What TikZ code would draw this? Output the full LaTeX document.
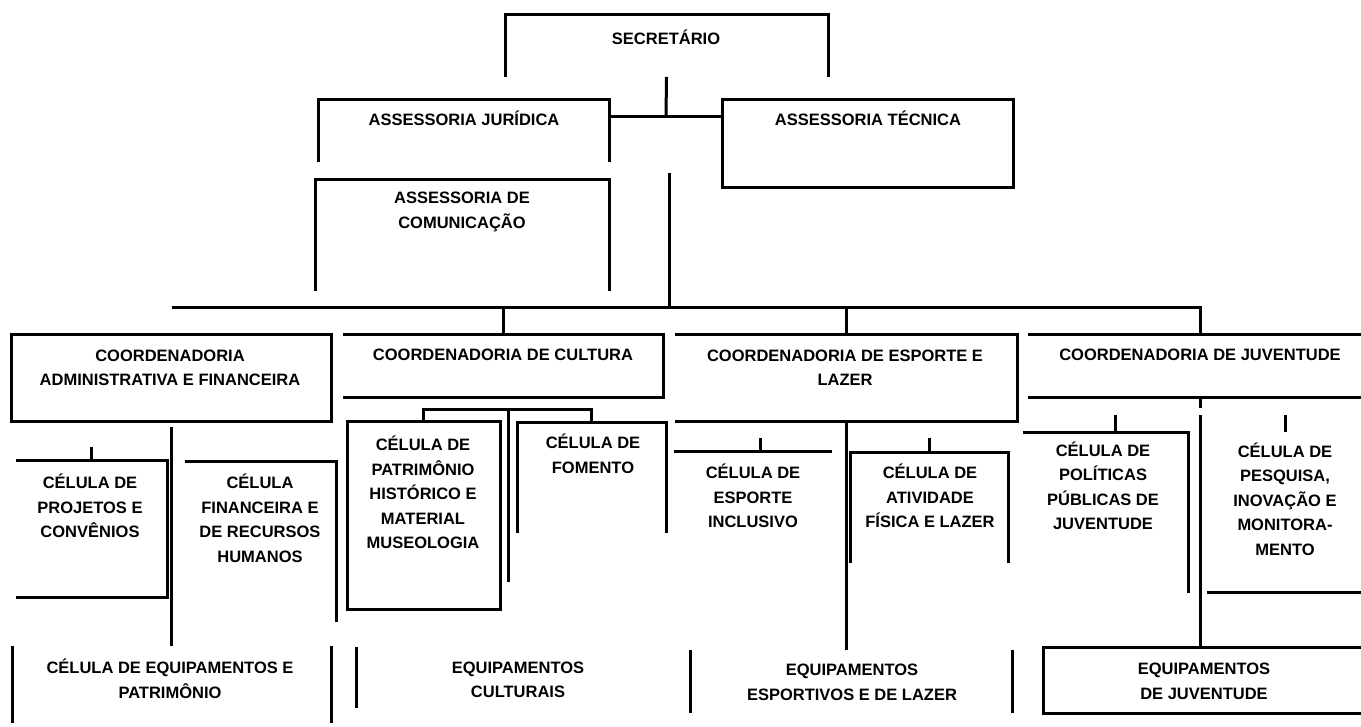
\documentclass[tikz,border=0pt]{standalone}
\usepackage{fontspec}
\setmainfont{Liberation Sans}

\begin{document}
\begin{tikzpicture}[
            x = 1pt, y = -1pt, % one unit per pixel, y going down
            line width = 3pt, % line style
            every node/.style = {inner sep = 0pt, outer sep = 0pt}
        ]

        \tikzset{orgbox/.style 2 args = {rectangle, minimum width = #1pt, minimum height = #2pt}}

        \tikzstyle{txt}=[
            font = \fontsize{16.5}{24.5}\selectfont\bfseries,
            align = center
        ]

        \useasboundingbox (0,0) rectangle (1361,727);
        \fill[white] (0,0) rectangle (1361,727);
        \clip (0,0) rectangle (1361,727);

        % top
        \node[orgbox={323}{62}] (sec) at (666.5,46) {};
        \node[orgbox={291}{62}] (jur) at (463.5,131) {};
        \node[orgbox={291}{88}] (tec) at (867.5,144) {};
        \node[orgbox={294}{111}] (com) at (462,235.5) {};

        % coordenadorias
        \node[orgbox={320}{87}] (adm) at (171,378.5) {};
        \node[orgbox={320}{63}] (cul) at (503,366.5) {};
        \node[orgbox={342}{87}] (esp) at (846,378.5) {};
        \node[orgbox={344}{63}] (juv) at (1200,366.5) {};

        % celulas
        \node[orgbox={151}{137}] (prj) at (91.5,528.5) {};
        \node[orgbox={151}{161}] (fin) at (260.5,541.5) {};
        \node[orgbox={153}{187}] (his) at (423.5,515.5) {};
        \node[orgbox={149}{110}] (fom) at (591.5,478) {};
        \node[orgbox={158}{112}] (inc) at (753,507) {};
        \node[orgbox={158}{111}] (atv) at (929,507.5) {};
        \node[orgbox={165}{161}] (pol) at (1105.5,512.5) {};
        \node[orgbox={156}{160}] (pes) at (1285,512) {};

        % equipamentos
        \node[orgbox={319}{77}] (peq) at (171.5,684.5) {};
        \node[orgbox={324}{61}] (ecu) at (518,677.5) {};
        \node[orgbox={322}{63}] (ees) at (851,681.5) {};
        \node[orgbox={322}{66}] (eju) at (1204,680) {};

        % texts
        \node[txt] (sec-t) at (666,37) {SECRETÁRIO};
        \node[txt] (jur-t) at (464,118) {ASSESSORIA JURÍDICA};
        \node[txt] (tec-t) at (868,118) {ASSESSORIA TÉCNICA};
        \node[txt] (com-t) at (462,212) {ASSESSORIA DE\\COMUNICAÇÃO};
        \node[txt] (adm-t) at (170,368) {COORDENADORIA\\ADMINISTRATIVA E FINANCEIRA};
        \node[txt] (cul-t) at (503,355) {COORDENADORIA DE CULTURA};
        \node[txt] (esp-t) at (845,367.5) {COORDENADORIA DE ESPORTE E\\LAZER};
        \node[txt] (juv-t) at (1200,355) {COORDENADORIA DE JUVENTUDE};
        \node[txt] (prj-t) at (90,506) {CÉLULA DE\\PROJETOS E\\CONVÊNIOS};
        \node[txt] (fin-t) at (260,518.5) {CÉLULA\\FINANCEIRA E\\DE RECURSOS\\HUMANOS};
        \node[txt] (his-t) at (423,492.5) {CÉLULA DE\\PATRIMÔNIO\\HISTÓRICO E\\MATERIAL\\MUSEOLOGIA};
        \node[txt] (fom-t) at (593,454) {CÉLULA DE\\FOMENTO};
        \node[txt] (inc-t) at (753,496) {CÉLULA DE\\ESPORTE\\INCLUSIVO};
        \node[txt] (atv-t) at (930,496) {CÉLULA DE\\ATIVIDADE\\FÍSICA E LAZER};
        \node[txt] (pol-t) at (1103,486) {CÉLULA DE\\POLÍTICAS\\PÚBLICAS DE\\JUVENTUDE};
        \node[txt] (pes-t) at (1285,499) {CÉLULA DE\\PESQUISA,\\INOVAÇÃO E\\MONITORA-\\MENTO};
        \node[txt] (peq-t) at (170,679) {CÉLULA DE EQUIPAMENTOS E\\PATRIMÔNIO};
        \node[txt] (ecu-t) at (518,680) {EQUIPAMENTOS\\CULTURAIS};
        \node[txt] (ees-t) at (852,682.5) {EQUIPAMENTOS\\ESPORTIVOS E DE LAZER};
        \node[txt] (eju-t) at (1204,681.5) {EQUIPAMENTOS\\DE JUVENTUDE};

        % box outlines (some sides are left open)
        \draw (sec.south west) |- (sec.north east) -- (sec.south east);
        \draw (jur.south west) |- (jur.north east) -- (jur.south east);
        \draw (tec.north west) rectangle (tec.south east);
        \draw (com.south west) |- (com.north east) -- (com.south east);
        \draw (adm.north west) rectangle (adm.south east);
        \draw (cul.north west) -| (cul.south east) -- (cul.south west);
        \draw (esp.north west) -| (esp.south east) -- (esp.south west);
        \draw (juv.north west) -- (juv.north east);
        \draw (juv.south west) -- (juv.south east);
        \draw (prj.north west) -| (prj.south east) -- (prj.south west);
        \draw (fin.north west) -| (fin.south east);
        \draw (his.north west) rectangle (his.south east);
        \draw (fom.south west) |- (fom.north east) -- (fom.south east);
        \draw (inc.north west) -- (inc.north east);
        \draw (atv.south west) |- (atv.north east) -- (atv.south east);
        \draw (pol.north west) -| (pol.south east);
        \draw (pes.south west) -- (pes.south east);
        \draw (peq.north west) -- (peq.south west);
        \draw (peq.north east) -- (peq.south east);
        \draw (ecu.north west) -- (ecu.south west);
        \draw (ees.north west) -- (ees.south west);
        \draw (ees.north east) -- (ees.south east);
        \draw (eju.north east) -| (eju.south west) -- (eju.south east);

        % connectors
        \coordinate (hub) at (666,117);
        \coordinate (top) at (669,173);
        \coordinate (bus) at (172,308);
        \coordinate (cb) at (508,410);

        \draw (sec.south) -- (hub);
        \draw (jur.east |- hub) -- (tec.west |- hub);
        \draw (top) -- (top |- bus);
        \draw (bus) -| (juv.north);
        \draw (bus -| cul.north) -- (cul.north);
        \draw (bus -| esp.north) -- (esp.north);

        \draw[shorten <= 5pt] (adm.south) -- (adm.south |- peq.north);
        \draw (prj.north) -- ++(0,-13);

        \draw (his.north) |- (cb) -| (fom.north);
        \draw (cb) -- ++(0,172);

        \draw (esp.south) -- (esp.south |- ees.north);
        \draw ([xshift=7pt]inc.north) -- ++(0,-13);
        \draw (atv.north) -- ++(0,-14);

        \draw (juv.south) -- ++(0,10);
        \draw ([yshift=-17pt]juv.south) -- (juv.south |- eju.north);
        \draw ([xshift=10pt]pol.north) -- ++(0,-17);
        \draw (pes.north) -- ++(0,-17);

  \end{tikzpicture}
\end{document}
